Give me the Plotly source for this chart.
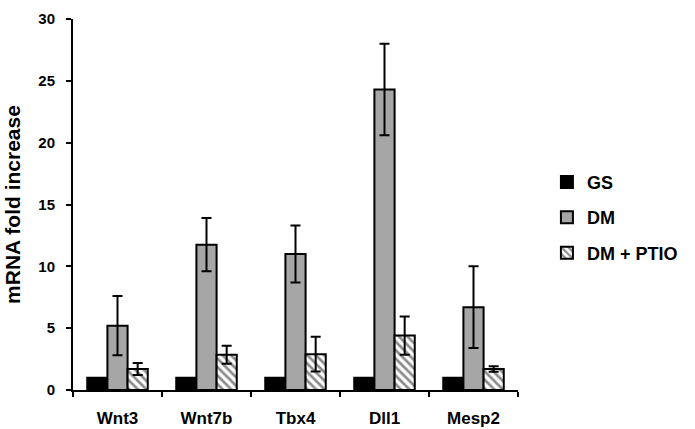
import plotly.graph_objects as go

# Gene expression (fold change relative to GS), mean and error
genes = ["Wnt3", "Wnt7b", "Tbx4", "Dll1", "Mesp2"]
gs_vals = [1.0, 1.0, 1.0, 1.0, 1.0]
dm_vals = [5.2, 11.75, 11.0, 24.3, 6.7]
dm_err = [2.4, 2.15, 2.3, 3.7, 3.3]
ptio_vals = [1.7, 2.85, 2.9, 4.4, 1.7]
ptio_err = [0.48, 0.72, 1.4, 1.55, 0.22]
y_ticks = [0, 5, 10, 15, 20, 25, 30]

FONT = "Liberation Sans, Arial, sans-serif"

err_style = dict(type="data", visible=True, color="black", thickness=2, width=5)
outline = dict(color="black", width=2)

fig = go.Figure()
fig.add_trace(go.Bar(
    name="GS", x=genes, y=gs_vals,
    marker=dict(color="black", line=outline),
    legendgroup="gs",
))
fig.add_trace(go.Bar(
    name="DM", x=genes, y=dm_vals,
    error_y=dict(array=dm_err, **err_style),
    marker=dict(color="#a6a6a6", line=outline),
    legendgroup="dm",
))
fig.add_trace(go.Bar(
    name="DM + PTIO", x=genes, y=ptio_vals,
    error_y=dict(array=ptio_err, **err_style),
    marker=dict(color="white", line=outline,
                pattern=dict(shape="\\", fgcolor="#1a1a1a", bgcolor="white",
                             size=6, solidity=0.45)),
    legendgroup="ptio",
))

fig.update_layout(
    width=695, height=429,
    margin=dict(l=73, r=132, t=19, b=39),
    paper_bgcolor="white", plot_bgcolor="white",
    barmode="group", bargap=0.32, bargroupgap=0,
    font=dict(family=FONT, color="black"),
    showlegend=True,
    legend=dict(
        x=1.065, xanchor="left", y=0.61, yanchor="top",
        font=dict(family=FONT, size=18, weight="bold", color="black"),
        itemwidth=30, tracegroupgap=9, traceorder="grouped",
        bgcolor="rgba(0,0,0,0)",
    ),
    xaxis=dict(
        automargin=False,
        showline=True, linecolor="black", linewidth=2,
        ticks="outside", tickson="boundaries", ticklen=5, tickwidth=2,
        tickcolor="black", ticklabelstandoff=12,
        tickfont=dict(family=FONT, size=17, weight="bold"),
        showgrid=False, zeroline=False,
    ),
    yaxis=dict(
        automargin=False,
        range=[0, 30], tickvals=y_ticks,
        showline=True, linecolor="black", linewidth=2,
        ticks="outside", ticklen=5, tickwidth=2, tickcolor="black",
        ticklabelstandoff=8,
        tickfont=dict(family=FONT, size=15, weight="bold"),
        showgrid=False, zeroline=False,
        title=dict(text="mRNA fold increase", standoff=12,
                   font=dict(family=FONT, size=21, weight="bold")),
    ),
)

fig.write_html("out.html")
